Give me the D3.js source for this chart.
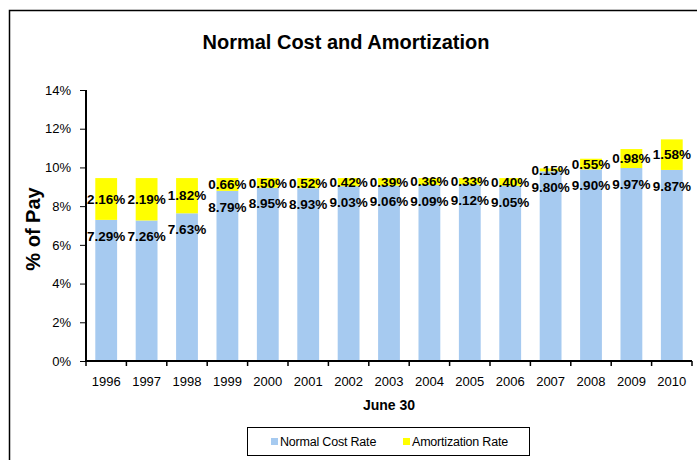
<!DOCTYPE html>
<html>
<head>
<meta charset="utf-8">
<script src="https://cdn.jsdelivr.net/npm/d3@7"></script>
<style>
  body { margin: 0; background: #fff; }
  svg { display: block; font-family: "Liberation Sans", Arial, sans-serif; }
</style>
</head>
<body>
<div id="chart"></div>
<script>
// data
var years = ["1996", "1997", "1998", "1999", "2000", "2001", "2002", "2003",
             "2004", "2005", "2006", "2007", "2008", "2009", "2010"];
var normalCost = [7.29, 7.26, 7.63, 8.79, 8.95, 8.93, 9.03, 9.06,
                  9.09, 9.12, 9.05, 9.80, 9.90, 9.97, 9.87];
var amortization = [2.16, 2.19, 1.82, 0.66, 0.50, 0.52, 0.42, 0.39,
                    0.36, 0.33, 0.40, 0.15, 0.55, 0.98, 1.58];
var yTicks = [0, 2, 4, 6, 8, 10, 12, 14];
var seriesNames = ["Normal Cost Rate", "Amortization Rate"];
var colors = ["#A6CAF0", "#FFFF00"];

var W = 697, H = 460;
var margin = {top: 90, right: 5, bottom: 99, left: 86},
    width = 692 - margin.left,
    height = 361 - margin.top;

var svg = d3.select("#chart").append("svg")
    .attr("width", W)
    .attr("height", H);

// outer frame (cut off at right / bottom like the original)
svg.append("path")
    .attr("d", "M9.5," + H + "V10.5H" + W)
    .attr("fill", "none")
    .attr("stroke", "#000")
    .attr("stroke-width", 1.5);

var g = svg.append("g")
    .attr("transform", "translate(" + margin.left + "," + margin.top + ")");

var x = d3.scaleBand()
    .domain(years)
    .range([0, width])
    .paddingInner(0.46)
    .paddingOuter(0.23);

var y = d3.scaleLinear()
    .domain([0, 14])
    .range([height, 0]);

// stacked bars
var rows = years.map(function(yr, i) {
  return {year: yr, nc: normalCost[i], am: amortization[i]};
});

var bars = g.append("g").selectAll("g")
    .data(rows)
    .enter().append("g");

bars.append("rect")
    .attr("x", function(d) { return x(d.year); })
    .attr("width", x.bandwidth())
    .attr("y", function(d) { return y(d.nc); })
    .attr("height", function(d) { return y(0) - y(d.nc); })
    .attr("fill", colors[0]);

bars.append("rect")
    .attr("x", function(d) { return x(d.year); })
    .attr("width", x.bandwidth())
    .attr("y", function(d) { return y(d.nc + d.am); })
    .attr("height", function(d) { return y(d.nc) - y(d.nc + d.am); })
    .attr("fill", colors[1]);

// value labels
var fmt = function(v) { return v.toFixed(2) + "%"; };

bars.append("text")
    .attr("x", function(d) { return x(d.year) + x.bandwidth() / 2; })
    .attr("y", function(d) { return y(d.nc) + 16; })
    .attr("dy", "0.35em")
    .attr("text-anchor", "middle")
    .attr("font-size", "13.5px")
    .attr("font-weight", "bold")
    .text(function(d) { return fmt(d.nc); });

bars.append("text")
    .attr("x", function(d) { return x(d.year) + x.bandwidth() / 2; })
    .attr("y", function(d) { return (y(d.nc) + y(d.nc + d.am)) / 2; })
    .attr("dy", "0.35em")
    .attr("text-anchor", "middle")
    .attr("font-size", "13.5px")
    .attr("font-weight", "bold")
    .text(function(d) { return fmt(d.am); });

// y axis
var yAxis = g.append("g")
    .call(d3.axisLeft(y).tickValues(yTicks).tickSize(6).tickPadding(9)
      .tickFormat(function(d) { return d + "%"; }));
yAxis.select(".domain").attr("stroke-width", 2).attr("d", "M0," + height + "V0");
yAxis.selectAll("text").attr("font-size", "13px").attr("fill", "#000").attr("font-family", null);

// x axis: ticks on band edges
var xAxis = g.append("g")
    .attr("transform", "translate(0," + height + ")")
    .call(d3.axisBottom(x).tickSize(0).tickPadding(16));
xAxis.select(".domain").attr("stroke-width", 2).attr("d", "M0,0H" + width);
xAxis.selectAll("text").attr("font-size", "13px").attr("fill", "#000").attr("font-family", null);

g.append("g").selectAll("line")
    .data(years.concat(["end"]))
    .enter().append("line")
    .attr("x1", function(d, i) { return i * x.step(); })
    .attr("x2", function(d, i) { return i * x.step(); })
    .attr("y1", height)
    .attr("y2", height + 5)
    .attr("stroke", "#000")
    .attr("stroke-width", 1.5);

// titles
svg.append("text")
    .attr("x", 346)
    .attr("y", 42)
    .attr("dy", "0.35em")
    .attr("text-anchor", "middle")
    .attr("font-size", "20px")
    .attr("font-weight", "bold")
    .text("Normal Cost and Amortization");

svg.append("text")
    .attr("transform", "translate(33,229) rotate(-90)")
    .attr("dy", "0.35em")
    .attr("text-anchor", "middle")
    .attr("font-size", "20px")
    .attr("font-weight", "bold")
    .text("% of Pay");

svg.append("text")
    .attr("x", margin.left + width / 2)
    .attr("y", 405)
    .attr("dy", "0.35em")
    .attr("text-anchor", "middle")
    .attr("font-size", "14px")
    .attr("font-weight", "bold")
    .text("June 30");

// legend
var legend = svg.append("g");
legend.append("rect")
    .attr("x", 247.5)
    .attr("y", 427.5)
    .attr("width", 282)
    .attr("height", 28)
    .attr("fill", "#fff")
    .attr("stroke", "#000")
    .attr("stroke-width", 1);

var legendX = [271, 403];
seriesNames.forEach(function(name, i) {
  legend.append("rect")
      .attr("x", legendX[i])
      .attr("y", 438)
      .attr("width", 7)
      .attr("height", 7)
      .attr("fill", colors[i]);
  legend.append("text")
      .attr("x", legendX[i] + 9)
      .attr("y", 442)
      .attr("dy", "0.35em")
      .attr("font-size", "12.5px")
      .attr("letter-spacing", "-0.2px")
      .text(name);
});
</script>
</body>
</html>
